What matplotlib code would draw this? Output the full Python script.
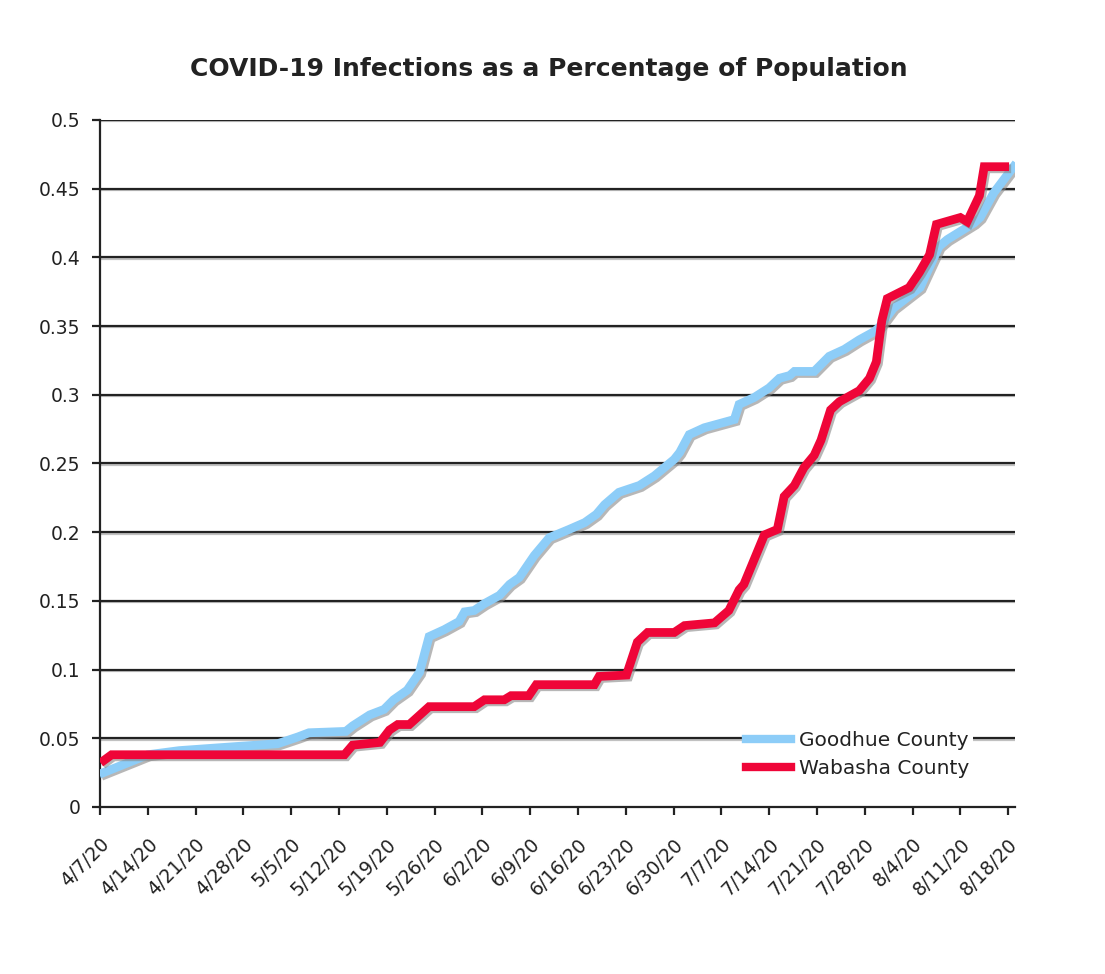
import numpy as np
import matplotlib
matplotlib.use('Agg')
import matplotlib.pyplot as plt
import matplotlib.patheffects as pe

# days counted from 4/7/20
goodhue_days = [0.5, 7, 11.6, 20, 26, 29, 30.6, 36, 37, 39.5, 41.6, 43, 45, 46.8, 48.2,
                50.4, 52.6, 53.4, 54.8, 56.3, 58.5, 60, 61.4, 63.6, 65.8, 68.7, 71, 72.7,
                73.9, 76, 79, 81.2, 84.1, 84.9, 86.3, 88.5, 90.7, 92.9, 93.6, 95.8, 98,
                99.5, 101, 101.7, 104.6, 106.8, 109, 111.2, 113.4, 114.1, 116.2, 120.1,
                122.9, 124.1, 128, 128.9, 130.9, 133.8]
goodhue_vals = [0.025, 0.038, 0.041, 0.044, 0.046, 0.051, 0.054, 0.055, 0.059, 0.067,
                0.071, 0.078, 0.085, 0.098, 0.124, 0.129, 0.135, 0.142, 0.143, 0.148,
                0.154, 0.162, 0.167, 0.183, 0.196, 0.202, 0.207, 0.213, 0.22, 0.229,
                0.234, 0.241, 0.253, 0.258, 0.271, 0.276, 0.279, 0.282, 0.293, 0.298,
                0.305, 0.312, 0.314, 0.317, 0.317, 0.328, 0.333, 0.34, 0.346, 0.349,
                0.363, 0.378, 0.408, 0.413, 0.425, 0.429, 0.447, 0.466]

wabasha_days = [0.6, 1.7, 35.8, 37, 41, 42.4, 43.6, 45.3, 48.2, 54.8, 56.3, 59.2, 60.2,
                62.8, 63.9, 72.4, 73.1, 77.1, 78.7, 80.2, 84.1, 85.6, 90, 92.1, 93.6,
                94.3, 97.3, 99.2, 100.2, 101.7, 103.1, 104.6, 105.6, 107, 108.3, 111.2,
                112.7, 113.7, 114.5, 115.3, 118.5, 120, 121.5, 122.5, 126, 127, 128.8,
                129.5, 132.5]
wabasha_vals = [0.034, 0.038, 0.038, 0.045, 0.047, 0.056, 0.06, 0.06, 0.073, 0.073,
                0.078, 0.078, 0.081, 0.081, 0.089, 0.089, 0.095, 0.096, 0.12, 0.127,
                0.127, 0.132, 0.134, 0.143, 0.158, 0.162, 0.198, 0.202, 0.226, 0.234,
                0.247, 0.256, 0.267, 0.289, 0.295, 0.303, 0.312, 0.324, 0.354, 0.37,
                0.378, 0.389, 0.402, 0.424, 0.429, 0.426, 0.445, 0.466, 0.466]

week_labels = ['4/7/20', '4/14/20', '4/21/20', '4/28/20', '5/5/20', '5/12/20', '5/19/20',
               '5/26/20', '6/2/20', '6/9/20', '6/16/20', '6/23/20', '6/30/20', '7/7/20',
               '7/14/20', '7/21/20', '7/28/20', '8/4/20', '8/11/20', '8/18/20']

txt = '#222222'
plt.rcParams['font.family'] = ['DejaVu Sans']

fig = plt.figure(figsize=(11.05, 9.74), dpi=100)
ax = fig.add_axes([0.0905, 0.1715, 0.828, 0.7053])

shadow = [pe.SimpleLineShadow(offset=(1.5, -1.5), shadow_color='#888888', alpha=0.6),
          pe.Normal()]

for y in np.arange(0.05, 0.51, 0.05):
    ax.axhline(y, color='#222222', lw=1.6, zorder=1,
               path_effects=[pe.SimpleLineShadow(offset=(0, -1), shadow_color='#999999', alpha=0.6),
                             pe.Normal()])

ax.plot(goodhue_days, goodhue_vals, color='#8DCDF8', lw=6.3, solid_joinstyle='miter',
        label='Goodhue County', zorder=3, path_effects=shadow)
ax.plot(wabasha_days, wabasha_vals, color='#EF0538', lw=6.3, solid_joinstyle='miter',
        label='Wabasha County', zorder=4, path_effects=shadow)

ax.set_xlim(0, 134)
ax.set_ylim(0, 0.5)
ax.set_yticks(np.arange(0, 0.51, 0.05))
ax.set_yticklabels(['0', '0.05', '0.1', '0.15', '0.2', '0.25', '0.3', '0.35', '0.4',
                    '0.45', '0.5'])
ax.set_xticks(np.arange(0, 134, 7))
ax.set_xticklabels(week_labels, rotation=45, ha='right', rotation_mode='anchor')

ax.tick_params(axis='both', direction='out', length=6, width=1.6, color='#222222',
               labelsize=13.5, labelcolor=txt)
ax.tick_params(axis='x', pad=14)
ax.tick_params(axis='y', pad=8)

for s in ['top', 'right']:
    ax.spines[s].set_visible(False)
for s in ['left', 'bottom']:
    ax.spines[s].set_linewidth(1.6)
    ax.spines[s].set_color('#222222')

ax.set_title('COVID-19 Infections as a Percentage of Population', fontsize=18,
             fontweight='bold', color=txt, pad=32, x=0.491)

leg = ax.legend(loc='lower right', bbox_to_anchor=(0.965, 0.022), frameon=True,
                fontsize=14.5, handlelength=2.2, handletextpad=0.4, labelspacing=0.45,
                borderpad=0.2, labelcolor=txt)
leg.get_frame().set_facecolor('white')
leg.get_frame().set_edgecolor('none')
leg.get_frame().set_alpha(1)
for h in leg.get_lines():
    h.set_path_effects([])
    h.set_linewidth(6)

fig.savefig('out.png', dpi=100)
